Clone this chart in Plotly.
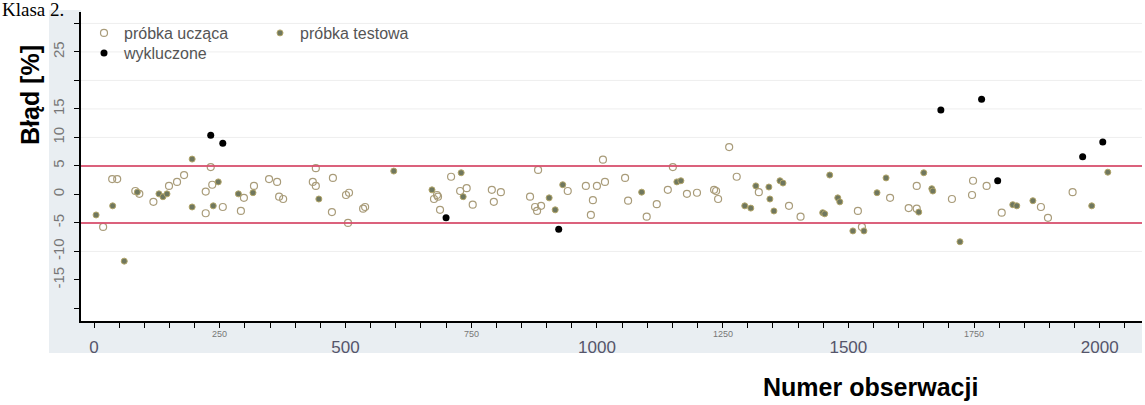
import plotly.graph_objects as go

# --- data ---
ucz_x = [18, 36, 46, 82, 90, 118, 149, 165, 179, 222, 222, 232, 235, 256, 292, 298, 318, 348, 364, 368, 376,
         441, 435, 441, 475, 473, 501, 507, 505, 535, 539, 682, 676, 684, 688, 710, 728, 741, 753, 791, 809, 795,
         883, 1012, 867, 877, 889, 881, 942, 978, 1000, 1016, 992, 988, 1056, 1062, 1099, 1119, 1141, 1151, 1179,
         1199, 1233, 1263, 1278, 1237, 1241, 1322, 1382, 1405, 1519, 1527, 1583, 1620, 1636, 1636, 1748, 1775,
         1706, 1746, 1805, 1883, 1897, 1946]
ucz_y = [-5.7, 2.7, 2.7, 0.6, 0.1, -1.3, 1.5, 2.2, 3.4, 0.5, -3.3, 4.8, 1.7, -2.2, -2.9, -0.6, 1.5, 2.7, 2.2, -0.4, -0.8,
         4.6, 2.2, 1.5, 2.9, -3.1, -0.1, 0.3, -5.0, -2.5, -2.2, -0.1, -0.8, -0.4, -2.7, 3.1, 0.6, 1.1, -1.8, 0.8, 0.4, -1.3,
         4.3, 6.1, -0.4, -2.2, -2.0, -2.9, 0.6, 1.5, 1.5, 2.2, -1.0, -3.6, 2.9, -1.1, -3.9, -1.7, 0.8, 4.8, 0.1,
         0.3, 0.8, 8.3, 3.1, 0.6, -0.8, 0.4, -2.0, -3.9, -2.9, -5.7, -0.6, -2.4, 1.5, -2.5, 2.4, 1.5,
         -0.8, -0.1, -3.2, -2.2, -4.1, 0.4]

test_x = [4, 37, 60, 86, 129, 137, 145, 195, 195, 237, 247, 287, 316, 447, 596, 672, 730, 734, 905, 917, 932,
          1089, 1159, 1167, 1316, 1342, 1364, 1370, 1344, 1294, 1306, 1352, 1449, 1453, 1463, 1479, 1483, 1509,
          1531, 1557, 1575, 1640, 1650, 1666, 1668, 1722, 1827, 1835, 1867, 1984, 2016]
test_y = [-3.6, -2.0, -11.7, 0.4, 0.1, -0.4, 0.1, 6.2, -2.2, -2.0, 2.2, 0.1, 0.3, -0.8, 4.1, 0.8, 3.8, -0.4, -0.6, -2.7, 1.7,
          0.4, 2.2, 2.4, 1.5, 1.3, 2.4, 2.0, -0.8, -2.0, -2.4, -2.9, -3.2, -3.4, 3.4, -0.6, -1.3, -6.4,
          -6.4, 0.3, 2.9, -3.1, 3.8, 1.0, 0.6, -8.3, -1.8, -2.0, -1.1, -2.0, 3.9]

wyk_x = [232, 256, 700, 924, 1684, 1765, 1797, 1966, 2006]
wyk_y = [10.4, 9.0, -4.1, -6.1, 14.8, 16.7, 2.4, 6.6, 9.2]

limits = [5, -5]

y_ticks = [-20, -15, -10, -5, 0, 5, 10, 15, 20, 25, 30]
y_ticktext = ["", "-15", "-10", "-5", "0", "5", "10", "15", "", "25", ""]
y_grid = [-10, 10, 15, 20, 25, 30]
x_major = [0, 500, 1000, 1500, 2000]
x_small = [250, 750, 1250, 1750]

W, H = 1145, 405
ML, MR, MT, MB = 81, 3, 12, 84
PW, PH = W - ML - MR, H - MT - MB


def px(xp):
    return (xp - ML) / PW


def py(yp):
    return (H - MB - yp) / PH


fig = go.Figure()

# background bands around the plot area
fig.add_shape(type="rect", xref="paper", yref="paper", x0=px(49), x1=0, y0=py(353), y1=py(10),
              fillcolor="#e9eef2", line=dict(width=0), layer="below")
fig.add_shape(type="rect", xref="paper", yref="paper", x0=px(49), x1=1, y0=py(353), y1=0,
              fillcolor="#e9eef2", line=dict(width=0), layer="below")

# light gridlines
for v in y_grid:
    fig.add_shape(type="line", xref="paper", yref="y", x0=0, x1=1, y0=v, y1=v,
                  line=dict(color="#eeeeee", width=1), layer="below")

fig.add_trace(go.Scatter(
    x=ucz_x, y=ucz_y, mode="markers", name="próbka ucząca",
    marker=dict(symbol="circle-open", size=7, color="#a99c7a", line=dict(width=1.2)),
    legend="legend"))
fig.add_trace(go.Scatter(
    x=test_x, y=test_y, mode="markers", name="próbka testowa",
    marker=dict(symbol="circle", size=6, color="#6f775e", line=dict(width=1, color="#b3a66a")),
    legend="legend"))
fig.add_trace(go.Scatter(
    x=wyk_x, y=wyk_y, mode="markers", name="wykluczone",
    marker=dict(symbol="circle", size=7, color="#000000"),
    legend="legend2"))

for v in limits:
    fig.add_shape(type="line", xref="paper", yref="y", x0=0, x1=1, y0=v, y1=v,
                  line=dict(color="#d8506e", width=2), layer="above", opacity=0.9)

annotations = [
    dict(text="Klasa 2.", xref="paper", yref="paper", x=px(0), y=py(9), xanchor="left", yanchor="middle",
         showarrow=False, font=dict(family="Liberation Serif", size=19, color="#000000")),
    dict(text="<b>Błąd [%]</b>", xref="paper", yref="paper", x=px(30), y=py(95), xanchor="center",
         yanchor="middle", textangle=-90, showarrow=False,
         font=dict(family="Liberation Sans", size=25, color="#000000")),
    dict(text="<b>Numer obserwacji</b>", xref="paper", yref="paper", x=px(870), y=py(387), xanchor="center",
         yanchor="middle", showarrow=False, font=dict(family="Liberation Sans", size=25, color="#000000")),
]
for v in x_small:
    annotations.append(dict(text=str(v), xref="x", yref="paper", x=v, y=py(334), xanchor="center",
                            yanchor="middle", showarrow=False,
                            font=dict(family="Liberation Sans", size=9, color="#777777")))

fig.update_layout(
    width=W, height=H,
    margin=dict(l=ML, r=MR, t=MT, b=MB),
    paper_bgcolor="#ffffff", plot_bgcolor="rgba(0,0,0,0)",
    font=dict(family="Liberation Sans", color="#555555"),
    annotations=annotations,
    legend=dict(orientation="h", x=px(84), y=py(33), xanchor="left", yanchor="middle",
                bgcolor="rgba(0,0,0,0)", font=dict(size=16, color="#555555"),
                entrywidth=131, entrywidthmode="pixels", itemclick=False),
    legend2=dict(orientation="h", x=px(84), y=py(53), xanchor="left", yanchor="middle",
                 bgcolor="rgba(0,0,0,0)", font=dict(size=16, color="#555555")),
    showlegend=True,
)

fig.update_xaxes(
    range=[-26, 2084], showgrid=False, zeroline=False,
    showline=True, linecolor="#000000", linewidth=1.5,
    tickmode="array", tickvals=x_major, ticktext=[str(v) for v in x_major],
    ticks="outside", ticklen=5, tickcolor="#000000",
    minor=dict(dtick=50, tick0=0, ticks="outside", ticklen=5, tickcolor="#000000", showgrid=False),
    tickfont=dict(size=17, color="#55556a"), ticklabelstandoff=5,
)
fig.update_yaxes(
    range=[-22.2, 32], zeroline=False, showgrid=False,
    showline=True, linecolor="#000000", linewidth=1.5,
    tickmode="array", tickvals=y_ticks, ticktext=y_ticktext,
    ticks="outside", ticklen=5, tickcolor="#000000",
    tickangle=-90, tickfont=dict(size=15, color="#777777"), ticklabelstandoff=4,
)

fig.write_html("out.html")
